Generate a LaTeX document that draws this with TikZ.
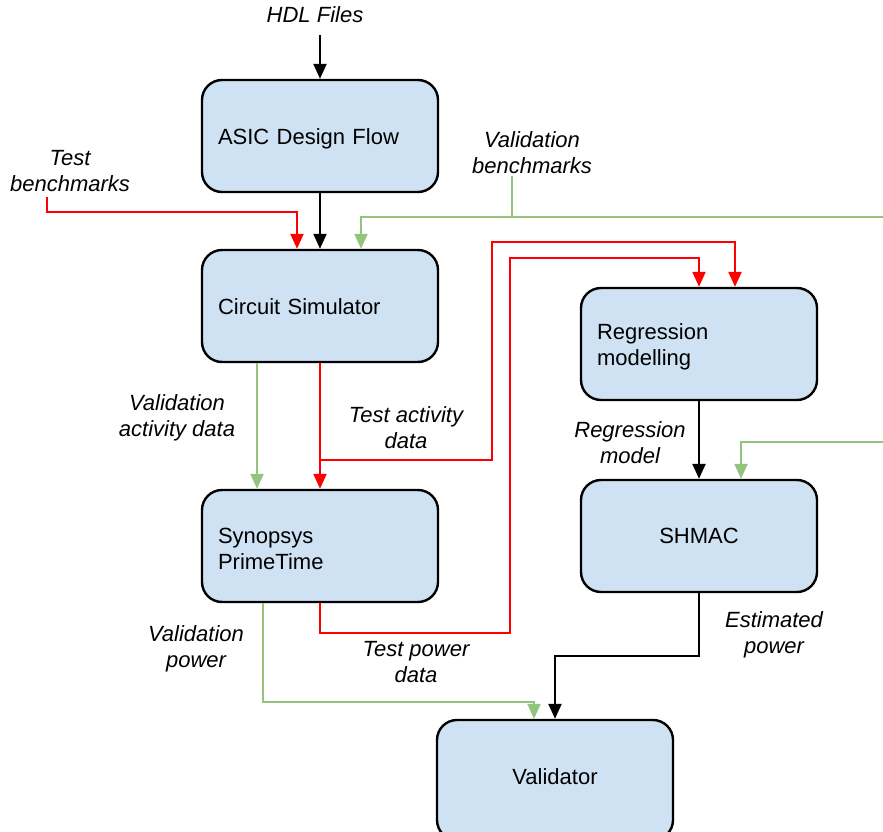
\documentclass[tikz,border=0pt]{standalone}
\usepackage{fontspec}
\setmainfont{Liberation Sans}
\usetikzlibrary{arrows.meta}

\definecolor{boxblue}{HTML}{CFE2F3}
\definecolor{flowred}{HTML}{FF0000}
\definecolor{flowgreen}{HTML}{93C47D}

\tikzset{
  box/.style={draw=black, line width=2.4pt, fill=boxblue, rounded corners=20pt,
    minimum width=236pt, minimum height=112pt, inner xsep=16pt,
    text width=204pt, font=\fontsize{22}{26}\selectfont},
  leftbox/.style={box, align=left, text height=22pt},
  onerow/.style={text depth=5pt},
  lbl/.style={font=\fontsize{22}{26}\selectfont\itshape, align=center, inner sep=2pt},
  flow/.style={line width=2.3pt, -{Triangle[length=15pt,width=13pt]}},
  blk/.style={flow, draw=black},
  rd/.style={flow, draw=flowred},
  gr/.style={flow, draw=flowgreen},
  grplain/.style={line width=2.3pt, draw=flowgreen},
}

\begin{document}
\begin{tikzpicture}[x=1pt, y=-1pt]
  \path[use as bounding box, clip] (0,0) rectangle (883,832);

  % process boxes
  \node[leftbox, onerow]   (asic)  at (320,136) {ASIC Design Flow};
  \node[leftbox, onerow]   (cs)    at (320,306) {Circuit Simulator};
  \node[leftbox]           (pt)    at (320,546) {Synopsys\\PrimeTime};
  \node[leftbox]           (reg)   at (699,344) {Regression\\modelling};
  \node[box, align=center] (shmac) at (699,536) {SHMAC};
  \node[box, align=center, minimum height=120pt, text depth=6pt] (val) at (555,780) {Validator};

  % data labels
  \node[lbl] (hdl)  at (315,15)  {HDL Files};
  \node[lbl] (tbm)  at (70,171)  {Test\\benchmarks};
  \node[lbl] (vbm)  at (532,153) {Validation\\benchmarks};
  \node[lbl] (vad)  at (177,418) {Validation\\activity data};
  \node[lbl] (tad)  at (406,428) {Test activity\\data};
  \node[lbl] (rmod) at (630,443) {Regression\\model};
  \node[lbl] (vpw)  at (196,649) {Validation\\power};
  \node[lbl] (tpd)  at (416,662) {Test power\\data};
  \node[lbl] (epw)  at (774,635) {Estimated\\power};

  % inputs entering from the right edge
  \coordinate (vbin) at (890,217);
  \coordinate (shin) at (890,442);

  % black flow
  \draw[blk] ([yshift=-10pt]hdl.south -| asic.north) -- (asic.north);
  \draw[blk] (asic.south) -- (cs.north);
  \draw[blk] (reg.south) -- (shmac.north);
  \draw[blk] (shmac.south) |- (val.north |- 0,656) -- (val.north);

  % test (red) flow
  \draw[rd] ([xshift=-23pt,yshift=-3pt]tbm.south) |- (297,212) -- ([xshift=-23pt]cs.north);
  \draw[rd] (cs.south) -- (pt.north);
  \draw[rd] (cs.south |- 0,460) -| (492,242) -| ([xshift=36pt]reg.north);
  \draw[rd] (pt.south) |- (510,633) -- (510,258) -| (reg.north);

  % validation (green) flow
  \draw[gr] (vbin) -| ([xshift=41pt]cs.north);
  \draw[grplain] ([xshift=-20pt]vbm.south) -- ([xshift=-20pt]vbm.south |- vbin);
  \draw[gr] (shin) -| ([xshift=42pt]shmac.north);
  \draw[gr] ([xshift=-63pt]cs.south) -- ([xshift=-63pt]pt.north);
  \draw[gr] ([xshift=-57pt]pt.south) |- (534,702) -- ([xshift=-21pt]val.north);
\end{tikzpicture}
\end{document}
